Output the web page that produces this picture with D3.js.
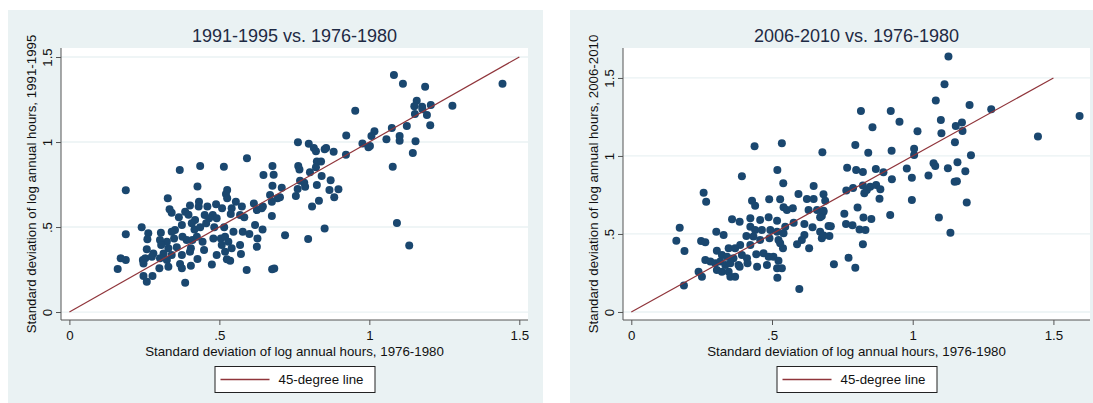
<!DOCTYPE html>
<html>
<head>
<meta charset="utf-8">
<script src="https://cdn.jsdelivr.net/npm/d3@7"></script>
<style>
  body { margin: 0; background: #fff; }
  text { font-family: "Liberation Sans", Arial, Helvetica, sans-serif; }
</style>
</head>
<body>
<script>
// values: [1976-1980 sd, later-period sd]
var points1991 = [
  [1.082,1.394],[1.112,1.343],[1.186,1.325],[1.444,1.343],[1.158,1.243],[1.150,1.210],[1.176,1.208],[1.205,1.218],
  [1.277,1.214],[1.177,1.192],[1.152,1.165],[1.192,1.159],[1.203,1.098],[1.125,1.094],[0.953,1.184],[1.075,1.082],
  [1.017,1.063],[0.923,1.039],[1.007,1.035],[1.101,1.035],[1.101,1.008],[1.057,1.016],[1.154,1.004],[0.977,0.992],
  [1.002,0.976],[0.997,0.969],[1.145,0.935],[0.922,0.925],[1.078,0.855],[0.762,0.998],[0.798,0.990],[0.815,0.965],
  [0.822,0.945],[0.851,0.957],[0.856,0.965],[0.881,0.943],[0.825,0.886],[0.839,0.886],[0.763,0.859],[0.767,0.839],
  [0.802,0.822],[0.822,0.851],[0.841,0.800],[0.871,0.775],[0.769,0.772],[0.783,0.761],[0.825,0.747],[0.786,0.737],
  [0.867,0.718],[0.897,0.722],[0.708,0.731],[0.761,0.724],[0.755,0.682],[0.702,0.675],[0.883,0.675],[0.832,0.655],
  [0.809,0.620],[1.092,0.524],[0.851,0.492],[0.719,0.451],[0.796,0.429],[1.133,0.392],
  [0.592,0.904],[0.436,0.859],[0.368,0.835],[0.515,0.855],[0.677,0.859],[0.647,0.806],[0.681,0.808],[0.188,0.716],
  [0.427,0.739],[0.526,0.718],[0.522,0.694],[0.328,0.669],[0.526,0.669],[0.677,0.743],[0.669,0.688],[0.694,0.669],
  [0.675,0.649],[0.615,0.639],[0.645,0.620],[0.432,0.649],[0.402,0.627],[0.334,0.604],[0.341,0.584],[0.365,0.557],
  [0.386,0.590],[0.397,0.572],[0.431,0.620],[0.460,0.620],[0.451,0.571],[0.489,0.634],[0.509,0.610],[0.541,0.610],
  [0.555,0.649],[0.575,0.620],[0.583,0.557],[0.569,0.571],[0.538,0.576],[0.625,0.600],[0.641,0.610],[0.675,0.565],
  [0.478,0.571],[0.491,0.551],[0.466,0.551],[0.419,0.541],[0.408,0.522],[0.375,0.512],[0.352,0.482],[0.241,0.498],
  [0.188,0.457],[0.263,0.463],[0.305,0.467],[0.341,0.472],[0.417,0.486],[0.436,0.498],[0.456,0.522],[0.483,0.498],
  [0.516,0.498],[0.547,0.472],[0.578,0.472],[0.600,0.459],[0.627,0.433],[0.619,0.512],[0.644,0.486],[0.625,0.384],
  [0.260,0.428],[0.302,0.424],[0.325,0.414],[0.349,0.433],[0.377,0.443],[0.391,0.424],[0.410,0.424],[0.425,0.443],
  [0.444,0.414],[0.480,0.433],[0.505,0.433],[0.519,0.443],[0.530,0.414],[0.508,0.394],[0.541,0.375],[0.569,0.394],
  [0.306,0.394],[0.330,0.375],[0.358,0.381],[0.405,0.375],[0.449,0.365],[0.258,0.369],[0.280,0.345],[0.314,0.345],
  [0.341,0.335],[0.375,0.335],[0.402,0.355],[0.491,0.335],[0.519,0.355],[0.572,0.341],[0.171,0.316],[0.188,0.306],
  [0.245,0.306],[0.253,0.316],[0.275,0.325],[0.302,0.316],[0.325,0.306],[0.427,0.312],[0.525,0.310],[0.536,0.302],
  [0.247,0.286],[0.330,0.267],[0.369,0.282],[0.375,0.257],[0.405,0.272],[0.475,0.280],[0.300,0.257],[0.161,0.253],
  [0.591,0.247],[0.676,0.251],[0.683,0.256],[0.247,0.212],[0.277,0.212],[0.258,0.178],[0.386,0.172]
];

var points2006 = [
  [1.127,1.637],[1.113,1.459],[1.082,1.355],[1.202,1.327],[1.279,1.299],[0.816,1.288],[0.922,1.288],[0.953,1.220],
  [1.100,1.231],[1.175,1.214],[1.153,1.192],[1.177,1.160],[1.102,1.145],[1.017,1.158],[0.857,1.184],[1.593,1.256],
  [1.445,1.124],[0.796,1.071],[0.842,1.021],[0.925,1.034],[1.005,1.047],[1.005,1.006],[1.150,1.088],[1.207,1.004],
  [0.767,0.925],[0.799,0.910],[0.823,0.897],[0.869,0.917],[0.896,0.895],[0.979,0.919],[0.926,0.851],[0.997,0.861],
  [1.074,0.953],[1.080,0.936],[1.056,0.874],[1.125,0.921],[1.159,0.960],[1.187,0.902],[1.149,0.835],[1.157,0.838],
  [1.192,0.701],[1.093,0.605],[1.134,0.508],[0.764,0.778],[0.788,0.795],[0.823,0.810],[0.828,0.761],[0.837,0.782],
  [0.849,0.803],[0.870,0.814],[0.885,0.786],[0.882,0.726],[0.997,0.718],[0.920,0.622],[0.804,0.669],[0.757,0.630],
  [0.825,0.605],[0.853,0.596],[0.763,0.564],[0.786,0.556],[0.811,0.528],[0.832,0.526],[0.823,0.434],[0.772,0.348],
  [0.796,0.284],
  [0.701,0.551],[0.709,0.549],[0.677,0.615],[0.683,0.643],[0.671,0.515],[0.677,0.472],[0.704,0.487],[0.720,0.306],
  [0.679,1.024],[0.683,0.754],
  [0.438,1.062],[0.535,1.081],[0.393,0.870],[0.519,0.910],[0.540,0.825],[0.648,0.808],[0.257,0.765],[0.266,0.707],
  [0.594,0.756],[0.429,0.713],[0.440,0.681],[0.490,0.722],[0.529,0.722],[0.541,0.671],[0.553,0.654],[0.574,0.665],
  [0.624,0.724],[0.648,0.724],[0.689,0.713],[0.630,0.654],[0.660,0.654],[0.683,0.649],[0.671,0.607],[0.683,0.490],
  [0.644,0.543],[0.615,0.564],[0.577,0.572],[0.547,0.547],[0.358,0.594],[0.385,0.579],[0.423,0.601],[0.458,0.590],
  [0.488,0.607],[0.518,0.585],[0.423,0.547],[0.440,0.526],[0.464,0.526],[0.494,0.526],[0.518,0.515],[0.541,0.504],
  [0.172,0.540],[0.160,0.457],[0.189,0.391],[0.248,0.455],[0.263,0.447],[0.302,0.515],[0.328,0.494],[0.409,0.487],
  [0.434,0.483],[0.458,0.462],[0.491,0.472],[0.523,0.462],[0.539,0.408],[0.529,0.440],[0.589,0.434],[0.606,0.462],
  [0.615,0.494],[0.632,0.408],[0.387,0.429],[0.423,0.429],[0.346,0.408],[0.369,0.408],[0.304,0.393],[0.322,0.365],
  [0.340,0.354],[0.363,0.344],[0.393,0.365],[0.411,0.344],[0.444,0.370],[0.470,0.376],[0.488,0.354],[0.505,0.354],
  [0.523,0.329],[0.263,0.333],[0.281,0.323],[0.298,0.312],[0.316,0.323],[0.334,0.301],[0.352,0.312],[0.381,0.301],
  [0.413,0.312],[0.447,0.290],[0.482,0.301],[0.518,0.280],[0.535,0.280],[0.239,0.258],[0.251,0.226],[0.304,0.269],
  [0.322,0.258],[0.346,0.258],[0.352,0.226],[0.369,0.226],[0.385,0.290],[0.519,0.220],[0.187,0.169],[0.597,0.147]
];

var tickValues = [0, 0.5, 1, 1.5];
var tickLabels = ["0", ".5", "1", "1.5"];
var diagonal = [[0, 0], [1.5, 1.5]];
var titles = ["1991-1995 vs. 1976-1980", "2006-2010 vs. 1976-1980"];
var yTitles = ["Standard deviation of log annual hours, 1991-1995",
               "Standard deviation of log annual hours, 2006-2010"];
var xTitle = "Standard deviation of log annual hours, 1976-1980";
var legendLabel = "45-degree line";

var bg = "#eaf2f3", navy = "#1a476f", maroon = "#90353b";

var svg = d3.select("body").append("svg")
    .attr("width", 1093)
    .attr("height", 403);

// panel layout (pixels); domains padded like Stata's plot region
var panels = [
  {data: points1991, title: titles[0], ytitle: yTitles[0],
   box: [8, 10, 543, 410], plot: [61, 48, 528, 320],
   xdom: [-0.028, 1.529], ydom: [-0.041, 1.553]},
  {data: points2006, title: titles[1], ytitle: yTitles[1],
   box: [570, 10, 1093, 410], plot: [623, 48, 1090, 320],
   xdom: [-0.0295, 1.630], ydom: [-0.045, 1.692]}
];

panels.forEach(drawPanel);

function drawPanel(p) {
  var left = p.plot[0], top = p.plot[1], right = p.plot[2], bottom = p.plot[3];
  var cx = (left + right) / 2, cy = (top + bottom) / 2;

  var x = d3.scaleLinear().domain(p.xdom).range([left, right]);
  var y = d3.scaleLinear().domain(p.ydom).range([bottom - 1, top]);

  var g = svg.append("g");

  g.append("rect")
      .attr("x", p.box[0]).attr("y", p.box[1])
      .attr("width", p.box[2] - p.box[0]).attr("height", p.box[3] - p.box[1])
      .attr("fill", bg);

  g.append("rect")
      .attr("x", left).attr("y", top)
      .attr("width", right - left).attr("height", bottom - top)
      .attr("fill", "#fff");

  // grid
  g.append("g").selectAll("line")
      .data(tickValues)
    .enter().append("line")
      .attr("x1", left).attr("x2", right)
      .attr("y1", function(d) { return y(d); })
      .attr("y2", function(d) { return y(d); })
      .attr("stroke", bg)
      .attr("stroke-width", 1.3);

  // axes
  var yAxis = g.append("g")
      .attr("transform", "translate(" + left + ",0)")
      .call(d3.axisLeft(y).tickValues(tickValues)
        .tickFormat(function(d, i) { return tickLabels[i]; })
        .tickSize(5).tickSizeOuter(0));
  yAxis.selectAll("text")
      .attr("transform", "rotate(-90)")
      .attr("x", 0).attr("y", -14).attr("dy", "0.35em")
      .attr("text-anchor", "middle");

  var xAxis = g.append("g")
      .attr("transform", "translate(0," + bottom + ")")
      .call(d3.axisBottom(x).tickValues(tickValues)
        .tickFormat(function(d, i) { return tickLabels[i]; })
        .tickSize(5).tickSizeOuter(0));
  xAxis.selectAll("text").attr("y", 20).attr("dy", 0);

  [yAxis, xAxis].forEach(function(a) {
    a.select(".domain").attr("stroke", "#555");
    a.selectAll(".tick line").attr("stroke", "#555");
    a.selectAll("text")
        .attr("fill", "#111")
        .style("font-size", "13.3px")
        .style("font-family", '"Liberation Sans", Arial, sans-serif');
  });
  xAxis.select(".domain").attr("d", "M" + left + ",0H" + right);
  yAxis.select(".domain").attr("d", "M0," + top + "V" + bottom);

  // points
  g.append("g").selectAll("circle")
      .data(p.data)
    .enter().append("circle")
      .attr("cx", function(d) { return x(d[0]); })
      .attr("cy", function(d) { return y(d[1]); })
      .attr("r", 4)
      .attr("fill", navy);

  // 45-degree line
  g.append("path")
      .datum(diagonal)
      .attr("d", d3.line().x(function(d) { return x(d[0]); }).y(function(d) { return y(d[1]); }))
      .attr("stroke", maroon)
      .attr("stroke-width", 1.2)
      .attr("fill", "none");

  // titles
  g.append("text")
      .attr("x", cx).attr("y", 42)
      .attr("text-anchor", "middle")
      .attr("fill", "#1e2a44")
      .style("font-size", "18px")
      .text(p.title);

  g.append("text")
      .attr("x", cx).attr("y", 355.5)
      .attr("text-anchor", "middle")
      .attr("fill", "#111")
      .style("font-size", "13.3px")
      .text(xTitle);

  g.append("text")
      .attr("transform", "translate(" + (left - 25) + "," + cy + ") rotate(-90)")
      .attr("text-anchor", "middle")
      .attr("fill", "#111")
      .style("font-size", "13.3px")
      .text(p.ytitle);

  // legend
  var lw = 160, lh = 26, lx = cx - lw / 2, ly = 366;
  var legend = g.append("g").attr("transform", "translate(" + lx + "," + ly + ")");
  legend.append("rect")
      .attr("x", 0.5).attr("y", 0.5)
      .attr("width", lw).attr("height", lh)
      .attr("fill", "#fff").attr("stroke", "#222").attr("stroke-width", 1);
  legend.append("line")
      .attr("x1", 6).attr("x2", 55).attr("y1", 13.5).attr("y2", 13.5)
      .attr("stroke", maroon).attr("stroke-width", 1.3);
  legend.append("text")
      .attr("x", 64).attr("y", 18)
      .attr("fill", "#111")
      .style("font-size", "13.3px")
      .text(legendLabel);
}
</script>
</body>
</html>
